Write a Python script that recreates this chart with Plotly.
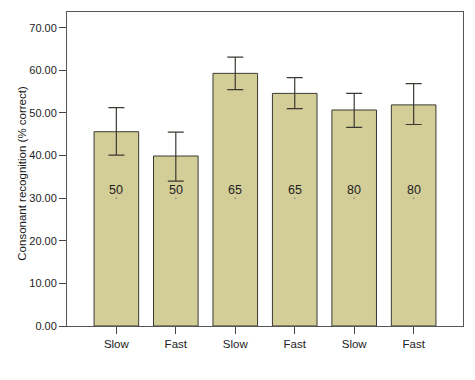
import plotly.graph_objects as go

categories = ["Slow", "Fast", "Slow", "Fast", "Slow", "Fast"]
means = [45.6, 39.9, 59.3, 54.6, 50.7, 51.9]
err_upper = [51.25, 45.5, 63.1, 58.3, 54.6, 56.9]
err_lower = [40.1, 34.0, 55.5, 51.0, 46.6, 47.3]
bar_labels = ["50", "50", "65", "65", "80", "80"]
label_level = [30, 30, 30, 30, 30, 30]
y_ticks = [0, 10, 20, 30, 40, 50, 60, 70]

x = list(range(len(categories)))
plus = [u - m for u, m in zip(err_upper, means)]
minus = [m - l for m, l in zip(means, err_lower)]

FONT = "Liberation Sans, Arial, sans-serif"

fig = go.Figure()
fig.add_trace(go.Bar(
    x=x, y=means, width=0.75,
    marker=dict(color="#D3CD98", line=dict(color="#3a3a32", width=1)),
    error_y=dict(type="data", symmetric=False, array=plus, arrayminus=minus,
                 color="#3a3a32", thickness=1.2, width=8),
    showlegend=False, hoverinfo="skip",
))
fig.add_trace(go.Scatter(
    x=x, y=label_level, mode="markers", cliponaxis=False,
    marker=dict(size=1.5, color="#777"),
    showlegend=False, hoverinfo="skip",
))
for xi, lv, t in zip(x, label_level, bar_labels):
    fig.add_annotation(x=xi, y=lv, text=t, showarrow=False, yshift=8,
                       font=dict(family=FONT, size=12.5, color="#222"))

# y-axis title placed as annotation for precise positioning
fig.add_annotation(xref="paper", yref="paper", x=-45 / 396, y=0.485,
                   text="Consonant recognition (% correct)", textangle=-90,
                   showarrow=False, xanchor="center", yanchor="middle",
                   font=dict(family=FONT, size=11.5, color="#1a1a1a"))

# body has 8px default margin in the page: compensate so the plot area
# sits at x 67..463, y 12..326 in the 475x380 window
fig.update_layout(
    width=459, height=364,
    margin=dict(l=59, r=4, t=4, b=46),
    paper_bgcolor="white", plot_bgcolor="white",
    font=dict(family=FONT, size=11, color="#222"),
)
fig.update_xaxes(
    range=[-0.83, 5.83], tickmode="array", tickvals=x, ticktext=categories,
    ticks="outside", ticklen=7, tickcolor="#444", tickwidth=1,
    showline=True, linecolor="#555", linewidth=1, mirror=True,
    showgrid=False, zeroline=False, tickfont=dict(size=11.5), automargin=False,
)
fig.update_yaxes(
    range=[0, 73.7], tickmode="array", tickvals=y_ticks,
    ticktext=[f"{v:.2f}" for v in y_ticks],
    ticks="outside", ticklen=7, tickcolor="#444", tickwidth=1,
    showline=True, linecolor="#555", linewidth=1, mirror=True,
    showgrid=False, zeroline=False, tickfont=dict(size=11), automargin=False,
)

fig.write_html("out.html")
